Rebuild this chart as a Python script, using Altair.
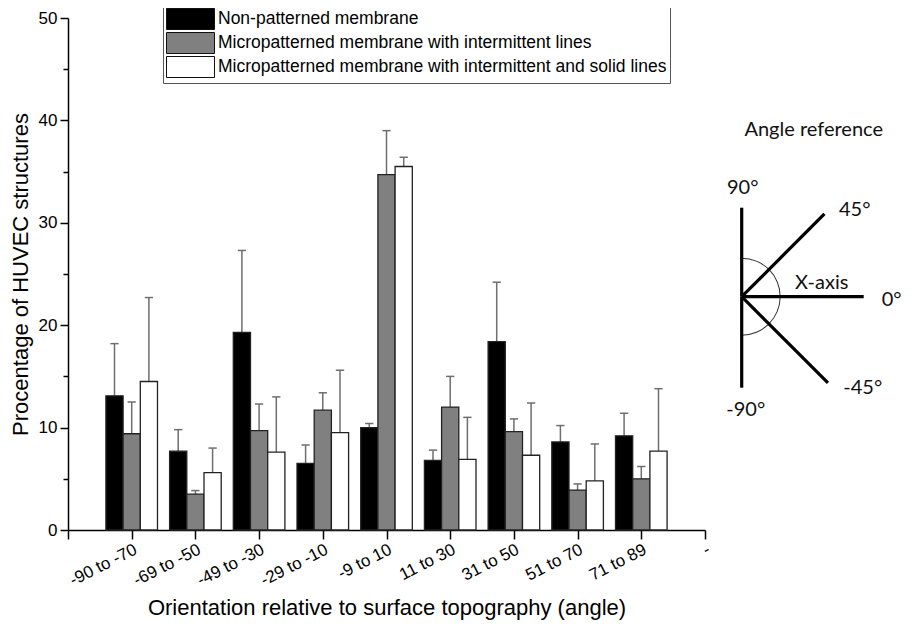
import json
import math
import altair as alt
import pandas as pd

# ---------------- data ----------------
categories = ["-90 to -70", "-69 to -50", "-49 to -30", "-29 to -10", "-9 to 10",
              "11 to 30", "31 to 50", "51 to 70", "71 to 89"]
x_tick_labels = categories + ["-"]

series_names = [
    "Non-patterned membrane",
    "Micropatterned membrane with intermittent lines",
    "Micropatterned membrane with intermittent and solid lines",
]
non_patterned = [13.1, 7.7, 19.3, 6.5, 10.0, 6.8, 18.4, 8.6, 9.2]
non_patterned_err = [5.1, 2.1, 8.0, 1.8, 0.4, 1.0, 5.8, 1.6, 2.2]
intermittent = [9.4, 3.5, 9.7, 11.7, 34.7, 12.0, 9.6, 3.9, 5.0]
intermittent_err = [3.1, 0.35, 2.6, 1.7, 4.3, 3.0, 1.25, 0.6, 1.2]
solid = [14.5, 5.6, 7.6, 9.5, 35.5, 6.9, 7.3, 4.8, 7.7]
solid_err = [8.2, 2.4, 5.4, 6.1, 0.9, 4.1, 5.1, 3.6, 6.1]
series_colors = ["#000000", "#808080", "#ffffff"]

# angle reference schematic
angle_deg = [90, 45, 0, -45, -90]
angle_len = [89, 117, 122, 122, 91]
angle_text = ["90°", "45°", "0°", "-45°", "-90°", "X-axis", "Angle reference"]
angle_text_x = [1, 113, 150, 121, 4, 80, 72]
angle_text_y = [109, 87, -3, -91, -113, 14, 167]

# ---------------- tables ----------------
rows = []
for j, (name, vals, errs) in enumerate(zip(series_names,
                                           [non_patterned, intermittent, solid],
                                           [non_patterned_err, intermittent_err, solid_err])):
    for i, (cat, v, e) in enumerate(zip(categories, vals, errs)):
        rows.append(dict(series=name, category=cat, pos=i + 1, off=j - 1, value=v, err=e))
df = pd.DataFrame(rows)

lines_df = pd.DataFrame({"angle": angle_deg, "length": angle_len})
text_df = pd.DataFrame({"text": angle_text, "x": angle_text_x, "y": angle_text_y})
origin_df = pd.DataFrame({"x": [0], "y": [0]})

FONT = "Liberation Sans"

x_scale = alt.Scale(domain=[0, 10], nice=False, zero=False)
y_scale = alt.Scale(domain=[0, 50], nice=False)

label_array = json.dumps(x_tick_labels)
x_axis = alt.Axis(
    values=[k / 2 for k in range(21)],
    labelExpr=f"(datum.value >= 1 && datum.value % 1 == 0) ? {label_array}[datum.value - 1] : ''",
    tickSize={"condition": {"test": "datum.value % 1 == 0", "value": 9}, "value": 5},
    labelAngle=-27, labelAlign="right", labelBaseline="top",
    labelFontSize=17, labelPadding=2, labelOverlap=False, labelFlush=False,
    title="Orientation relative to surface topography (angle)",
    titleFontSize=22, titlePadding=9, grid=False,
)
y_axis = alt.Axis(
    values=[k * 5 for k in range(11)],
    labelExpr="datum.value % 10 == 0 ? datum.label : ''",
    tickSize={"condition": {"test": "datum.value % 10 == 0", "value": 8}, "value": 5},
    labelFontSize=17, labelPadding=3,
    title="Procentage of HUVEC structures", titleFontSize=22, titlePadding=6, grid=False,
)

base = alt.Chart(df).transform_calculate(
    xc="datum.pos + datum.off * 0.27",
    xl="datum.xc - 0.135",
    xr="datum.xc + 0.135",
    top="datum.value + datum.err",
    cl="datum.xc - 0.065",
    cr="datum.xc + 0.065",
    zero="0",
)

errors = base.mark_rule(color="#6e6e6e", strokeWidth=1.5).encode(
    x=alt.X("xc:Q", scale=x_scale, axis=x_axis),
    y=alt.Y("value:Q", scale=y_scale, axis=y_axis),
    y2="top:Q",
)
caps = base.mark_rule(color="#6e6e6e", strokeWidth=1.5).encode(
    x=alt.X("cl:Q", scale=x_scale), x2="cr:Q",
    y=alt.Y("top:Q", scale=y_scale),
)
bars = base.mark_rect(stroke="#222222", strokeWidth=1.3).encode(
    x=alt.X("xl:Q", scale=x_scale), x2="xr:Q",
    y=alt.Y("value:Q", scale=y_scale), y2="zero:Q",
    color=alt.Color(
        "series:N",
        scale=alt.Scale(domain=series_names, range=series_colors),
        legend=alt.Legend(
            title=None, orient="none", legendX=95, legendY=-13, direction="vertical",
            symbolType="M-1,-1H3.57V1H-1Z", symbolSize=441,
            symbolStrokeColor="#111111", symbolStrokeWidth=1, symbolOpacity=1,
            labelFont=FONT, labelFontSize=17.5, labelColor="black", labelLimit=900,
            labelOffset=30, rowPadding=-2, padding=3,
            strokeColor="#555555", fillColor="white",
        ),
    ),
)
main = alt.layer(errors, caps, bars)

# angle schematic, in its own pixel-like units
dx_scale = alt.Scale(domain=[-673.7, -36.7], nice=False, zero=False)
dy_scale = alt.Scale(domain=[-233.3, 278.7], nice=False, zero=False)

ref_lines = alt.Chart(lines_df).transform_calculate(
    x0="0", y0="0",
    x1="datum.length * cos(datum.angle * PI / 180)",
    y1="datum.length * sin(datum.angle * PI / 180)",
).mark_rule(color="black", strokeWidth=3.2).encode(
    x=alt.X("x0:Q", scale=dx_scale, axis=None),
    y=alt.Y("y0:Q", scale=dy_scale, axis=None),
    x2="x1:Q", y2="y1:Q",
)
ref_arc = alt.Chart(origin_df).mark_arc(
    radius=39, radius2=38, theta=0, theta2=math.pi, color="#333333"
).encode(
    x=alt.X("x:Q", scale=dx_scale, axis=None),
    y=alt.Y("y:Q", scale=dy_scale, axis=None),
)
ref_text = alt.Chart(text_df).mark_text(
    font="Lato", fontSize=20, color="#111111", align="center", baseline="middle"
).encode(
    x=alt.X("x:Q", scale=dx_scale, axis=None),
    y=alt.Y("y:Q", scale=dy_scale, axis=None),
    text="text:N",
)
diagram = alt.layer(ref_arc, ref_lines, ref_text)

chart = alt.layer(main, diagram).resolve_scale(
    x="independent", y="independent"
).properties(
    width=637, height=512,
    autosize=alt.AutoSizeParams(type="none"),
    padding={"left": 60, "top": 10, "right": 196, "bottom": 96},
).configure_view(stroke=None).configure_axis(
    labelFont=FONT, titleFont=FONT, labelColor="black", titleColor="black",
    titleFontWeight="normal", domainColor="black", domainWidth=1.5,
    tickColor="black", tickWidth=1.5,
)

chart.save("out.html", embed_options={"renderer": "svg", "actions": False})
